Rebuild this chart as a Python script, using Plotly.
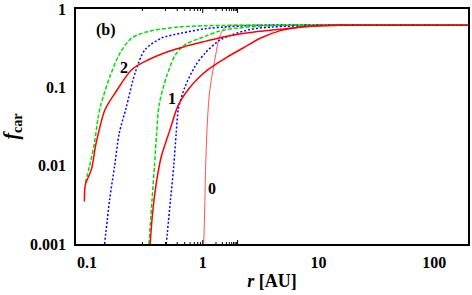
import math
import plotly.graph_objects as go

# curve "0" (thin red)
r0 = [1.02, 1.04, 1.06, 1.09, 1.13, 1.18, 1.23, 1.30, 1.37, 1.45, 1.55, 1.65, 1.8, 2.2, 3, 10, 200]
f0 = [0.001, 0.0028, 0.01, 0.03, 0.07, 0.12, 0.17, 0.27, 0.40, 0.50, 0.58, 0.61, 0.62, 0.62, 0.62, 0.62, 0.62]

# group "1"
r1_red = [0.352, 0.357, 0.371, 0.397, 0.438, 0.518, 0.611, 0.746, 0.9, 1.11, 1.6, 2.25, 3.2, 4.7, 7, 10, 15, 30, 200]
f1_red = [0.001, 0.0014, 0.0027, 0.006, 0.013, 0.028, 0.058, 0.093, 0.128, 0.168, 0.24, 0.32, 0.43, 0.53, 0.59, 0.61, 0.62, 0.62, 0.62]
r1_grn = [0.343, 0.365, 0.383, 0.40, 0.42, 0.485, 0.58, 0.703, 1.047, 1.42, 2.0, 3.6, 6, 200]
f1_grn = [0.001, 0.0037, 0.01, 0.026, 0.06, 0.135, 0.26, 0.35, 0.447, 0.527, 0.57, 0.61, 0.62, 0.62]
r1_blu = [0.484, 0.527, 0.562, 0.59, 0.617, 0.70, 0.857, 1.047, 1.4, 1.8, 2.6, 4, 7, 12, 200]
f1_blu = [0.001, 0.0037, 0.01, 0.026, 0.054, 0.10, 0.185, 0.274, 0.40, 0.47, 0.55, 0.59, 0.61, 0.62, 0.62]

# group "2"
r2_red = [0.095, 0.0967, 0.109, 0.12, 0.143, 0.175, 0.243, 0.339, 0.505, 0.703, 1.047, 1.62, 2.8, 4.69, 8, 15, 30, 200]
f2_red = [0.0035, 0.0057, 0.0089, 0.0195, 0.0517, 0.0846, 0.168, 0.225, 0.287, 0.333, 0.386, 0.45, 0.51, 0.55, 0.60, 0.62, 0.62, 0.62]
r2_grn = [0.0967, 0.105, 0.116, 0.124, 0.131, 0.158, 0.193, 0.243, 0.339, 0.615, 1.0, 2.0, 200]
f2_grn = [0.006, 0.0098, 0.0195, 0.039, 0.058, 0.138, 0.274, 0.426, 0.518, 0.589, 0.61, 0.62, 0.62]
r2_blu = [0.142, 0.157, 0.173, 0.19, 0.218, 0.26, 0.317, 0.442, 0.659, 1.047, 1.6, 3.0, 200]
f2_blu = [0.001, 0.0037, 0.0098, 0.026, 0.055, 0.152, 0.302, 0.426, 0.493, 0.56, 0.59, 0.62, 0.62]

x_tickvals = [0.1, 1, 10, 100]
x_ticktext = ["0.1", "1", "10", "100"]
y_tickvals = [0.001, 0.01, 0.1, 1]
y_ticktext = ["0.001", "0.01", "0.1", "1"]

labels = ["(b)", "2", "1", "0"]
label_r = [0.147, 0.209, 0.546, 1.21]
label_f = [0.547, 0.179, 0.0726, 0.00506]

RED = "#ff0000"
GRN = "#00dd00"
BLU = "#0000ff"
FONT = "Liberation Serif"
XRANGE = [-1.095, 2.292]
YRANGE = [-3, 0]

fig = go.Figure()

def add(x, y, color, dash, width):
    fig.add_trace(go.Scatter(x=x, y=y, mode="lines",
                             line=dict(color=color, dash=dash, width=width,
                                       shape="spline", smoothing=0.8),
                             showlegend=False, hoverinfo="skip"))

add(r0, f0, "#ff5050", "solid", 1.0)
add(r1_blu, f1_blu, BLU, "2px,2px", 1.5)
add(r1_grn, f1_grn, GRN, "4px,2px", 1.5)
add(r1_red, f1_red, RED, "solid", 1.5)
add(r2_blu, f2_blu, BLU, "2px,2px", 1.5)
add(r2_grn, f2_grn, GRN, "4px,2px", 1.5)
add(r2_red, f2_red, RED, "solid", 1.5)

for t, x, y in zip(labels, label_r, label_f):
    fig.add_annotation(x=math.log10(x), y=math.log10(y), xref="x", yref="y",
                       text="<b>" + t + "</b>", showarrow=False,
                       font=dict(family=FONT, size=16, color="black"),
                       xanchor="center", yanchor="middle")

# inside ticks (major at decades, minor at 2..9) on all four sides
def tick_positions(lo, hi):
    out = []
    for d in range(math.floor(lo) - 1, math.ceil(hi) + 1):
        for m in range(1, 10):
            p = d + math.log10(m)
            if lo - 1e-9 <= p <= hi + 1e-9:
                out.append((p, m == 1))
    return out

tick_line = dict(color="black", width=1)
for p, major in tick_positions(*XRANGE):
    ln = 4 if major else 2
    fig.add_shape(type="line", xref="x", yref="paper", ysizemode="pixel",
                  yanchor=0, x0=p, x1=p, y0=0, y1=ln, line=tick_line, layer="above")
    fig.add_shape(type="line", xref="x", yref="paper", ysizemode="pixel",
                  yanchor=1, x0=p, x1=p, y0=0, y1=-ln, line=tick_line, layer="above")
for p, major in tick_positions(*YRANGE):
    ln = 4 if major else 2
    fig.add_shape(type="line", xref="paper", yref="y", xsizemode="pixel",
                  xanchor=0, x0=0, x1=ln, y0=p, y1=p, line=tick_line, layer="above")
    fig.add_shape(type="line", xref="paper", yref="y", xsizemode="pixel",
                  xanchor=1, x0=0, x1=-ln, y0=p, y1=p, line=tick_line, layer="above")

axis_common = dict(
    type="log", showgrid=False, zeroline=False, automargin=False,
    showline=True, linecolor="black", linewidth=1.5, mirror=True,
    ticks="", tickmode="array",
    tickfont=dict(family=FONT, size=16, color="black", weight="bold"),
)

fig.update_xaxes(**axis_common, range=XRANGE,
                 tickvals=x_tickvals, ticktext=x_ticktext, ticklabelstandoff=3,
                 title=dict(text="<b><i>r</i> [AU]</b>", standoff=4,
                            font=dict(family=FONT, size=18, color="black")))
fig.update_yaxes(**axis_common, range=YRANGE,
                 tickvals=y_tickvals, ticktext=y_ticktext, ticklabelstandoff=5,
                 title=dict(text="<b><i>f</i><sub>car</sub></b>", standoff=10,
                            font=dict(family=FONT, size=20, color="black")))

fig.update_layout(width=472, height=295,
                  margin=dict(l=76, r=4, t=9, b=51),
                  paper_bgcolor="white", plot_bgcolor="white",
                  showlegend=False)

fig.write_html("out.html", config={"displayModeBar": False},
               post_script="document.body.style.margin='0px';")
